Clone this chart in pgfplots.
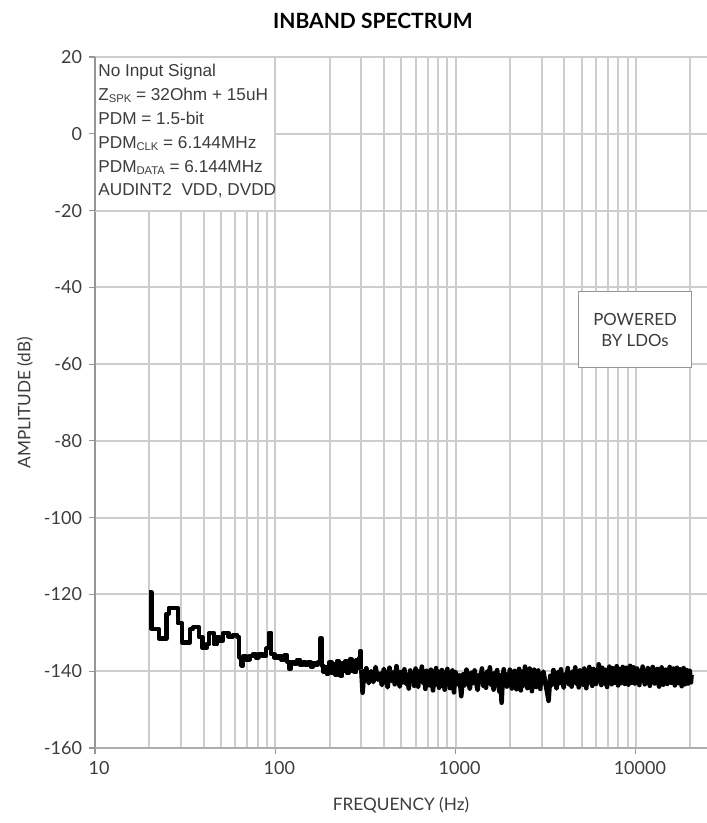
\documentclass[border=0pt]{standalone}
\usepackage{pgfplots}
\pgfplotsset{compat=1.18}
\usepackage{fontspec}
\setmainfont{Lato}
\newfontfamily\arialf{Liberation Sans}
\definecolor{gridgray}{RGB}{205,205,205}
\definecolor{axgray}{RGB}{150,150,150}
\definecolor{txtgray}{RGB}{60,60,60}
\newcommand{\sub}[1]{\raisebox{-0.25ex}{\fontsize{5.6bp}{6bp}\selectfont #1}}
\begin{document}
\begin{tikzpicture}
\begin{axis}[
  name=ax,
  scale only axis, width=306bp, height=345.5bp,
  xmode=log, xmin=10, xmax=24800, ymin=-160, ymax=20,
  xtick={10,100,1000,10000}, xticklabels={10,100,1000,10000},
  minor xtick={20,30,40,50,60,70,80,90,200,300,400,500,600,700,800,900,2000,3000,4000,5000,6000,7000,8000,9000,20000},
  ytick={-160,-140,-120,-100,-80,-60,-40,-20,0,20},
  yticklabels={-160,-140,-120,-100,-80,-60,-40,-20,0,20},
  xmajorgrids, xminorgrids, ymajorgrids,
  major grid style={draw=gridgray, line width=1bp},
  minor grid style={draw=gridgray, line width=1bp},
  axis x line*=bottom, axis y line*=left,
  x axis line style={draw=gridgray!85!black, line width=1bp},
  y axis line style={draw=axgray, line width=0.8bp},
  tick align=outside, major tick length=3bp, minor tick length=0bp,
  tick style={draw=axgray, line width=0.6bp},
  ticklabel style={font=\fontsize{9bp}{11bp}\selectfont, text=txtgray},
  xticklabel style={xshift=2bp},
  every axis y label/.style={at={(rel axis cs:0,0.5)}, xshift=-35bp, rotate=90, anchor=center, font=\fontsize{8.6bp}{10bp}\selectfont, text=txtgray},
  every axis x label/.style={at={(rel axis cs:0.5,0)}, yshift=-28.5bp, anchor=center, font=\fontsize{8.6bp}{10bp}\selectfont, text=txtgray},
  every axis title/.style={at={(rel axis cs:0.454,1)}, yshift=18bp, anchor=center, font=\fontsize{10.5bp}{12bp}\selectfont\bfseries},
  title={INBAND SPECTRUM},
  xlabel={FREQUENCY (Hz)},
  ylabel={AMPLITUDE (dB)},
  clip=true,
]
\addplot[black, line width=2.1bp, const plot, line join=round] coordinates {
(20,-119.5) (20.6,-129) (22.6,-131.5) (24.9,-125) (25.6,-123.5) (28.8,-127.5) (30.4,-132.5)
(33.8,-129) (35.0,-128.5) (37.6,-131) (39.5,-134) (41.5,-133) (43.0,-130) (45.5,-133)
(47.5,-131) (49.0,-132) (51.5,-130) (55.0,-131) (58.0,-130.5) (61.5,-131) (63.0,-136.5)
(65.0,-138.5) (66.5,-136) (69.0,-137) (72.0,-136) (75.0,-135.5) (78.0,-136.5) (81.0,-135.5)
(85.0,-136) (89.0,-134) (92.0,-130) (95.0,-135.5) (99.0,-136.5) (104,-136) (108,-137)
(112,-135.8) (116,-137.5) (119,-139.3) (122,-137.5) (127,-138) (132,-137) (137,-138.3)
(142,-137.6) (147,-138.4) (152,-137.7) (157,-138.8) (162,-137.9) (167,-138.3) (172,-137.6)
(177,-131.5) (181,-138.6) (185,-140.2) (189,-139.0) (193,-140.8) (197,-138.9)
(200,-137.6) (205,-140.4) (210,-138.2) (215,-140.9) (220,-137.4) (225,-139.6) (230,-141.2)
(235,-138.0) (240,-139.8) (245,-137.3) (250,-140.5) (255,-138.6) (260,-136.9) (265,-139.9)
(270,-137.8) (275,-140.3) (280,-137.1) (285,-139.2) (290,-136.6) (295,-134.8) (300,-139.5)
};
\addplot[black, line width=2.3bp, line join=round] coordinates {
(300,-139.5) (305,-145.6) (310,-140.8) (315,-142.5)
(320,-139.2) (330,-143.1) (340,-140.0) (350,-142.8) (360,-138.9) (370,-142.2) (380,-140.6)
(390,-143.6) (400,-139.4) (410,-141.8) (420,-144.2) (430,-139.1) (440,-142.5) (450,-140.3)
(460,-143.4) (470,-138.7) (480,-141.6) (490,-144.0) (500,-140.2) (510,-142.9) (520,-139.5)
(530,-143.3) (540,-141.0) (550,-144.5) (560,-139.8) (570,-142.1) (580,-140.4) (590,-143.8)
(600,-139.3) (610,-142.6) (620,-144.1) (630,-140.0) (640,-142.4) (650,-138.8) (660,-143.0)
(670,-141.2) (680,-144.6) (690,-139.9) (700,-142.3) (710,-140.5) (720,-143.7) (730,-139.6)
(740,-142.8) (750,-145.0) (760,-140.7) (770,-142.0) (780,-139.2) (790,-143.5) (800,-141.1)
(810,-144.3) (820,-140.1) (830,-142.7) (840,-139.7) (850,-143.9) (860,-141.5) (870,-144.8)
(880,-140.3) (890,-142.5) (900,-139.4) (910,-143.2) (920,-141.0) (930,-144.4) (940,-140.6)
(950,-142.9) (960,-139.8) (970,-143.6) (980,-145.5) (990,-141.3)
(1000,-140.2) (1025,-143.4) (1050,-141.0) (1075,-146.5) (1100,-140.8) (1125,-143.7) (1150,-139.6)
(1175,-142.5) (1200,-144.6) (1225,-140.4) (1250,-143.1) (1275,-139.8) (1300,-142.9) (1325,-144.9)
(1350,-140.9) (1375,-142.2) (1400,-139.3) (1425,-143.8) (1450,-141.4) (1475,-144.3) (1500,-140.1)
(1525,-142.7) (1550,-139.0) (1575,-143.5) (1600,-141.6) (1625,-144.8) (1650,-140.5) (1675,-142.4)
(1700,-139.7) (1725,-143.2) (1750,-145.3) (1775,-141.0) (1800,-148.2) (1825,-142.1) (1850,-139.5)
(1875,-143.6) (1900,-140.8) (1925,-144.0) (1950,-141.3) (1975,-143.0) (2000,-139.6) (2025,-142.8)
(2050,-144.5) (2075,-140.3) (2100,-143.3) (2125,-139.9) (2150,-142.0) (2175,-144.7) (2200,-140.7)
(2225,-143.5) (2250,-139.4) (2275,-142.6) (2300,-145.0) (2325,-141.1) (2350,-143.9) (2375,-140.0)
(2400,-142.3) (2425,-138.8) (2450,-143.1) (2475,-141.5) (2500,-144.4) (2525,-140.6) (2550,-142.9)
(2575,-139.3) (2600,-143.7) (2625,-141.8) (2650,-145.2) (2675,-140.4) (2700,-142.5) (2725,-139.6)
(2750,-143.4) (2775,-141.0) (2800,-144.1) (2825,-140.2) (2850,-142.7) (2875,-139.8) (2900,-143.8)
(2925,-141.4) (2950,-144.6) (2975,-140.9)
(3000,-143.0) (3070,-140.1) (3140,-142.9) (3210,-145.1) (3280,-147.7) (3350,-141.2) (3420,-143.6)
(3490,-139.7) (3560,-142.4) (3630,-144.5) (3700,-140.3) (3770,-143.1) (3840,-139.5) (3910,-142.2)
(3980,-144.3) (4050,-140.8) (4120,-142.6) (4190,-139.2) (4260,-143.4) (4330,-141.0) (4400,-144.0)
(4470,-140.1) (4540,-142.8) (4610,-139.0) (4680,-143.2) (4750,-141.5) (4820,-144.2) (4890,-139.8)
(4960,-142.3) (5030,-140.4) (5100,-143.5) (5170,-139.3) (5240,-141.9) (5310,-144.4) (5380,-140.0)
(5450,-142.7) (5520,-138.9) (5590,-143.0) (5660,-140.6) (5730,-143.8) (5800,-139.4) (5870,-142.1)
(5940,-140.2) (6010,-143.3) (6080,-139.7) (6150,-141.8) (6220,-138.2) (6290,-142.6) (6360,-140.5)
(6430,-143.6) (6500,-139.1) (6570,-142.0) (6640,-140.3) (6710,-143.2) (6780,-139.6) (6850,-141.7)
(6920,-144.1) (6990,-140.0) (7060,-142.4) (7130,-138.8) (7200,-142.9) (7270,-140.7) (7340,-143.4)
(7410,-139.2) (7480,-141.6) (7550,-139.9) (7620,-143.0) (7690,-140.4) (7760,-142.5) (7830,-138.7)
(7900,-141.9) (7970,-143.7) (8040,-139.5) (8110,-142.2) (8180,-140.1) (8250,-143.1) (8320,-139.3)
(8390,-141.5) (8460,-138.9) (8530,-142.8) (8600,-140.6) (8670,-143.3) (8740,-139.7) (8810,-141.8)
(8880,-139.1) (8950,-142.6) (9020,-140.2) (9090,-143.5) (9160,-139.4) (9230,-141.9) (9300,-138.6)
(9370,-142.3) (9440,-140.5) (9510,-143.0) (9580,-139.8) (9650,-142.1) (9720,-139.0) (9790,-141.4)
(9860,-143.2) (9930,-139.6)
(10000,-142.5) (10150,-139.3) (10300,-141.8) (10450,-143.6) (10600,-139.9) (10750,-142.2) (10900,-138.8)
(11050,-141.5) (11200,-143.4) (11350,-140.1) (11500,-142.6) (11650,-139.2) (11800,-141.7) (11950,-143.8)
(12100,-140.0) (12250,-142.3) (12400,-138.9) (12550,-141.6) (12700,-143.2) (12850,-139.7) (13000,-142.0)
(13150,-139.4) (13300,-141.9) (13450,-144.0) (13600,-140.3) (13750,-142.7) (13900,-139.0) (14050,-141.4)
(14200,-143.5) (14350,-140.2) (14500,-142.4) (14650,-139.6) (14800,-141.8) (14950,-143.3) (15100,-140.5)
(15250,-142.1) (15400,-138.9) (15550,-141.6) (15700,-143.0) (15850,-139.8) (16000,-142.5) (16150,-139.3)
(16300,-141.9) (16450,-143.7) (16600,-140.4) (16750,-142.2) (16900,-139.1) (17050,-141.5) (17200,-143.1)
(17350,-140.0) (17500,-142.6) (17650,-139.5) (17800,-141.7) (17950,-143.9) (18100,-140.6) (18250,-142.0)
(18400,-139.2) (18550,-141.3) (18700,-143.4) (18850,-140.1) (19000,-142.8) (19150,-139.7) (19300,-141.6)
(19450,-143.2) (19600,-140.3) (19750,-142.4) (19900,-139.9) (20050,-141.8) (20200,-142.9) (20350,-141.0)
};
% annotation box
\fill[white, draw=gridgray, line width=1bp] (axis cs:10,20) rectangle (axis cs:100,-20);
\draw[axgray, line width=0.8bp] (axis cs:10,20) -- (axis cs:10,-20);
\node[anchor=north west, inner sep=0pt, align=left, text=txtgray,
      font=\arialf\fontsize{8.6bp}{11.9bp}\selectfont]
  at ([shift={(1.5bp,-3.5bp)}]axis cs:10,20)
  {No Input Signal\\
   Z\sub{SPK} = 32Ohm + 15uH\\
   PDM = 1.5-bit\\
   PDM\sub{CLK} = 6.144MHz\\
   PDM\sub{DATA} = 6.144MHz\\
   AUDINT2\ \ VDD, DVDD};
\node[draw=axgray, fill=white, line width=0.7bp, minimum width=56.5bp, minimum height=38bp,
      align=center, text=txtgray, font=\fontsize{8.4bp}{10.5bp}\selectfont]
  at (axis cs:9890,-51) {POWERED\\BY LDOs};
\end{axis}
\pgfresetboundingbox
\path ([shift={(-47.5bp,-37.5bp)}]ax.south west) rectangle ([shift={(0bp,28.5bp)}]ax.north east);
\end{tikzpicture}
\end{document}
